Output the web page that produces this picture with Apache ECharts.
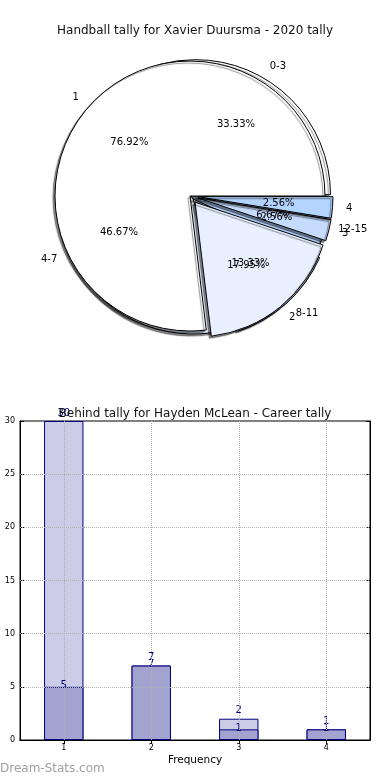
<!DOCTYPE html>
<html><head><meta charset="utf-8">
<script src="https://cdn.jsdelivr.net/npm/echarts@6/dist/echarts.min.js"></script>
<style>html,body{margin:0;padding:0;background:#fff}#c{width:390px;height:780px}</style>
</head><body><div id="c"></div>
<script>
// ---- data ----
const pieTitle = 'Handball tally for Xavier Duursma - 2020 tally';
const pieALabels = ['0-3', '4-7', '8-11', '12-15'];
const pieAValues = [5, 7, 2, 1];
const pieAExploded = ['0-3', '8-11'];
const pieBLabels = ['1', '2', '3', '4'];
const pieBValues = [30, 7, 1, 1];
const pieBExploded = ['2', '3', '4'];
const sliceColors = ['#ffffff', '#e8f0ff', '#c6dcff', '#b3d4ff'];

const barTitle = 'Behind tally for Hayden McLean - Career tally';
const barCategories = ['1', '2', '3', '4'];
const barTotal = [30, 7, 2, 1];
const barPart = [5, 7, 1, 1];
const yTicks = [0, 5, 10, 15, 20, 25, 30];
const xName = 'Frequency';
const watermark = 'Dream-Stats.com';

// ---- build ----
const FF = 'DejaVu Sans';
function pieData(labels, values, exploded, colored) {
  return labels.map((n, i) => {
    const d = { name: n, value: values[i], selected: exploded.includes(n) };
    d.itemStyle = colored ? { color: sliceColors[i] } : { color: 'rgba(0,0,0,0)' };
    return d;
  });
}
function pctFmt(values) {
  const s = values.reduce((a, b) => a + b, 0);
  return p => (p.value / s * 100).toFixed(2) + '%';
}
function pieGroup(labels, values, exploded, center, R, offset, z) {
  const base = {
    type: 'pie', center: center, startAngle: 0, clockwise: false,
    selectedMode: 'multiple', selectedOffset: offset, avoidLabelOverlap: false,
    animation: false, silent: true, emphasis: { disabled: true },
    labelLayout: { hideOverlap: false }, minShowLabelAngle: 0
  };
  const fill = Object.assign({}, base, {
    radius: R, z: z,
    data: pieData(labels, values, exploded, true),
    itemStyle: { borderColor: '#000', borderWidth: 1, shadowColor: 'rgba(0,0,0,0.45)', shadowOffsetX: -2, shadowOffsetY: 2, shadowBlur: 1 },
    select: { itemStyle: { borderColor: '#000', borderWidth: 1 } },
    label: { show: false }, labelLine: { show: false }
  });
  const pct = Object.assign({}, base, {
    radius: R * 1.2 - 6, z: 10,
    data: pieData(labels, values, exploded, false),
    itemStyle: { borderWidth: 0 },
    select: { itemStyle: { borderWidth: 0 } },
    label: { show: true, position: 'inside', formatter: pctFmt(values), color: '#000', fontSize: 10, fontFamily: FF, textBorderWidth: 0 },
    labelLine: { show: false }
  });
  const outer = Object.assign({}, base, {
    radius: R, z: 10,
    data: pieData(labels, values, exploded, false),
    itemStyle: { borderWidth: 0 },
    select: { itemStyle: { borderWidth: 0 } },
    label: { show: true, position: 'outside', formatter: '{b}', color: '#000', fontSize: 10, fontFamily: FF, distanceToLabelLine: 0 },
    labelLine: { show: false, length: R * 0.1, length2: 0 }
  });
  return [fill, pct, outer];
}

const R = 135;
const series = []
  .concat(pieGroup(pieALabels, pieAValues, pieAExploded, [193, 199], R, 5, 2))
  .concat(pieGroup(pieBLabels, pieBValues, pieBExploded, [190, 196], R, 8, 3));

const gridLines = yTicks.slice(1, -1).map(v => ({ yAxis: v }))
  .concat(barCategories.map((c, i) => ({ xAxis: i })));

series.push({
  type: 'bar', xAxisIndex: 0, yAxisIndex: 0, data: barTotal, barWidth: '45%', barGap: '-100%',
  animation: false, silent: true, z: 2, labelLayout: { hideOverlap: false },
  itemStyle: { color: '#ccccE6', borderColor: '#000080', borderWidth: 1 },
  label: { show: true, position: 'top', distance: 3, color: '#000080', fontSize: 10, fontFamily: FF }
});
series.push({
  type: 'bar', xAxisIndex: 0, yAxisIndex: 0, data: barPart, barWidth: '45%', barGap: '-100%',
  animation: false, silent: true, z: 3, labelLayout: { hideOverlap: false },
  itemStyle: { color: '#a3a3d0', borderColor: '#000080', borderWidth: 1 },
  label: { show: true, position: 'top', distance: -4, color: '#000080', fontSize: 10, fontFamily: FF },
  markLine: {
    silent: true, symbol: 'none', animation: false, label: { show: false },
    lineStyle: { color: '#b0b0b0', type: 'dotted', width: 1 },
    data: gridLines
  }
});

const axisCommon = {
  axisLine: { show: true, lineStyle: { color: '#000', width: 1 } },
  splitLine: { show: false }
};

const option = {
  backgroundColor: '#fff',
  animation: false,
  title: [
    { text: pieTitle, left: 'center', top: 25, padding: 0, textStyle: { fontSize: 12, fontWeight: 'normal', color: '#111', fontFamily: FF } },
    { text: barTitle, left: 'center', top: 408, padding: 0, textStyle: { fontSize: 12, fontWeight: 'normal', color: '#111', fontFamily: FF } }
  ],
  grid: { left: 20, right: 20, top: 421, bottom: 40, show: true, borderColor: '#000', borderWidth: 1, backgroundColor: 'transparent' },
  xAxis: [
    Object.assign({}, axisCommon, {
      type: 'category', data: barCategories, boundaryGap: true, position: 'bottom',
      axisTick: { show: true, inside: true, alignWithLabel: true, length: 4, lineStyle: { color: '#000' } },
      axisLabel: { fontSize: 8, color: '#000', margin: 4, fontFamily: FF },
      name: xName, nameLocation: 'middle', nameGap: 15,
      nameTextStyle: { fontSize: 10.5, color: '#000', fontFamily: FF }
    }),
    Object.assign({}, axisCommon, {
      type: 'category', data: barCategories, boundaryGap: true, position: 'top',
      axisTick: { show: true, inside: true, alignWithLabel: true, length: 4, lineStyle: { color: '#000' } },
      axisLabel: { show: false }
    })
  ],
  yAxis: [
    Object.assign({}, axisCommon, {
      type: 'value', min: yTicks[0], max: yTicks[yTicks.length - 1], interval: 5, position: 'left',
      axisTick: { show: true, inside: true, length: 4, lineStyle: { color: '#000' } },
      axisLabel: { fontSize: 8, color: '#000', margin: 5, fontFamily: FF }
    }),
    Object.assign({}, axisCommon, {
      type: 'value', min: yTicks[0], max: yTicks[yTicks.length - 1], interval: 5, position: 'right',
      axisTick: { show: true, inside: true, length: 4, lineStyle: { color: '#000' } },
      axisLabel: { show: false }
    })
  ],
  graphic: [
    { type: 'text', left: 0, top: 763, silent: true, style: { text: watermark, fontSize: 12, fill: '#a0a0a0', fontFamily: FF } }
  ],
  series: series
};

const chart = echarts.init(document.getElementById('c'), null, { renderer: 'canvas' });
chart.setOption(option);
</script>
</body></html>
